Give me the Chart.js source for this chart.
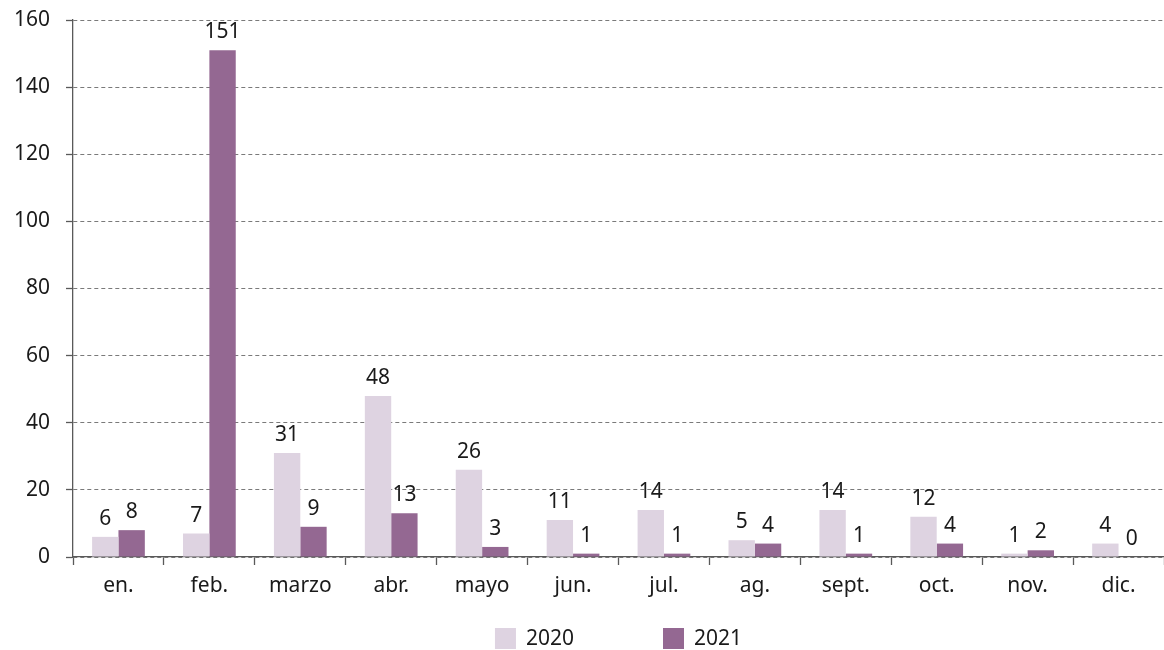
<!DOCTYPE html>
<html>
<head>
<meta charset="utf-8">
<script src="https://cdn.jsdelivr.net/npm/chart.js@4/dist/chart.umd.min.js"></script>
<style>
  html, body { margin: 0; padding: 0; background: #fff; }
  #wrap { width: 1164px; height: 650px; }
</style>
</head>
<body>
<div id="wrap"><canvas id="barChart" width="1164" height="650"></canvas></div>
<script>
var months = ['en.', 'feb.', 'marzo', 'abr.', 'mayo', 'jun.', 'jul.', 'ag.', 'sept.', 'oct.', 'nov.', 'dic.'];
var values2020 = [6, 7, 31, 48, 26, 11, 14, 5, 14, 12, 1, 4];
var values2021 = [8, 151, 9, 13, 3, 1, 1, 4, 1, 4, 2, 0];
var seriesNames = ['2020', '2021'];
var yTicks = [0, 20, 40, 60, 80, 100, 120, 140, 160];

var fontFamily = '"Noto Sans", sans-serif';
var fontSize = 21;
var textColor = '#1a1a1a';
var axisColor = '#595959';

// numbers above every bar
var valueLabels = {
  id: 'valueLabels',
  afterDatasetsDraw: function(chart) {
    var ctx = chart.ctx;
    ctx.save();
    ctx.font = fontSize + 'px ' + fontFamily;
    ctx.fillStyle = textColor;
    ctx.textAlign = 'center';
    ctx.textBaseline = 'alphabetic';
    chart.data.datasets.forEach(function(ds, i) {
      var meta = chart.getDatasetMeta(i);
      meta.data.forEach(function(bar, j) {
        ctx.fillText(String(ds.data[j]), bar.x, bar.y - 12);
      });
    });
    ctx.restore();
  }
};

// legend under the axis, centred on the plot area
var bottomLegend = {
  id: 'bottomLegend',
  afterDraw: function(chart) {
    var ctx = chart.ctx;
    var area = chart.chartArea;
    var box = 21, gapText = 10, gapItem = 89;
    ctx.save();
    ctx.font = fontSize + 'px ' + fontFamily;
    var widths = chart.data.datasets.map(function(ds) {
      return box + gapText + ctx.measureText(ds.label).width;
    });
    var total = widths.reduce(function(a, b) { return a + b; }, 0) + gapItem * (widths.length - 1);
    var x = (area.left + area.right) / 2 - total / 2;
    var y = 628;
    chart.data.datasets.forEach(function(ds, i) {
      ctx.fillStyle = ds.backgroundColor;
      ctx.fillRect(x, y, box, box);
      ctx.fillStyle = textColor;
      ctx.textBaseline = 'middle';
      ctx.textAlign = 'left';
      ctx.fillText(ds.label, x + box + gapText, y + box / 2 + 1);
      x += widths[i] + gapItem;
    });
    ctx.restore();
  }
};

var ctx = document.getElementById('barChart');
var chart = new Chart(ctx, {
  type: 'bar',
  data: {
    labels: months,
    datasets: [
      {
        label: seriesNames[0],
        data: values2020,
        backgroundColor: '#ded3e1',
        categoryPercentage: 0.58,
        barPercentage: 1.0
      },
      {
        label: seriesNames[1],
        data: values2021,
        backgroundColor: '#946892',
        categoryPercentage: 0.58,
        barPercentage: 1.0
      }
    ]
  },
  options: {
    responsive: false,
    animation: false,
    layout: { padding: { top: 20, right: 0, left: 0, bottom: 0 } },
    plugins: {
      legend: { display: false },
      tooltip: { enabled: false }
    },
    scales: {
      x: {
        offset: true,
        grid: {
          offset: true,
          drawOnChartArea: false,
          drawTicks: true,
          tickLength: 8,
          tickColor: axisColor,
          tickWidth: 1.3
        },
        border: { display: true, color: axisColor, width: 1.3 },
        ticks: {
          color: textColor,
          padding: 8,
          maxRotation: 0,
          autoSkip: false,
          font: { family: fontFamily, size: fontSize }
        },
        afterFit: function(scale) {
          scale.height = 93;
          scale.paddingLeft = 0;
          scale.paddingRight = 0;
        }
      },
      y: {
        min: 0,
        max: 160,
        afterBuildTicks: function(scale) {
          scale.ticks = yTicks.map(function(v) { return { value: v }; });
        },
        grid: {
          color: '#7a7a7a',
          lineWidth: 1,
          drawTicks: true,
          tickLength: 7,
          tickColor: axisColor,
          tickWidth: 1.3,
          tickBorderDash: []
        },
        border: { display: true, color: axisColor, width: 1.3, dash: [4, 3] },
        ticks: {
          color: textColor,
          padding: 16,
          font: { family: fontFamily, size: fontSize }
        },
        afterFit: function(scale) {
          scale.width = 73;
          scale.paddingTop = 0;
          scale.paddingBottom = 0;
        }
      }
    }
  },
  plugins: [valueLabels, bottomLegend]
});
</script>
</body>
</html>
